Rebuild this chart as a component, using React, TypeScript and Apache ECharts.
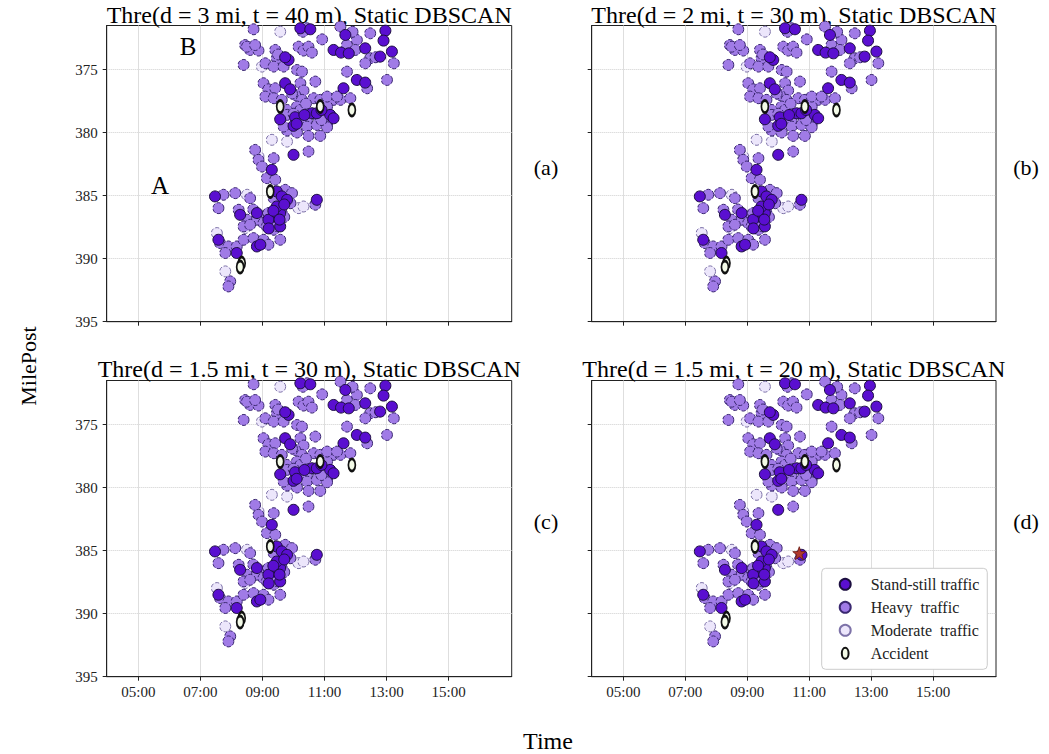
import React, { useEffect, useRef } from "react";
import * as echarts from "echarts";

const FONT = '"Liberation Serif", "Times New Roman", "DejaVu Serif", serif';

const panelTitles = [
  "Thre(d = 3 mi, t = 40 m), Static DBSCAN",
  "Thre(d = 2 mi, t = 30 m), Static DBSCAN",
  "Thre(d = 1.5 mi, t = 30 m), Static DBSCAN",
  "Thre(d = 1.5 mi, t = 20 m), Static DBSCAN",
];
const panelTags = ["(a)", "(b)", "(c)", "(d)"];
const xTickHours = [5, 7, 9, 11, 13, 15];
const yTickMiles = [375, 380, 385, 390, 395];
const seriesNames = ["Stand-still traffic", "Heavy  traffic", "Moderate  traffic", "Accident"];

// [hour of day, milepost]
const standStill: number[][] = [
  [10.22, 371.72], [10.54, 371.8], [11.67, 372.25], [12.96, 371.91], [12.9, 372.7],
  [13.17, 373.57], [12.79, 373.97], [12.31, 373.31], [11.29, 373.44], [11.53, 373.65],
  [11.78, 373.71], [9.84, 374.23], [9.73, 374.02], [12.04, 375.82], [12.31, 376.03],
  [11.61, 376.48], [9.73, 376.08], [9.89, 376.56], [10.59, 378.46], [11.18, 378.59],
  [9.57, 378.94], [10.05, 378.78], [10.0, 379.46], [11.29, 378.86], [10.75, 378.46],
  [10.0, 381.76], [9.3, 382.95], [9.46, 384.67], [7.47, 385.06], [8.28, 386.52],
  [8.82, 386.38], [7.58, 388.5], [8.82, 389.03], [8.17, 389.55], [8.93, 388.89],
  [9.57, 386.38], [9.36, 386.65], [9.19, 386.91], [9.46, 385.86], [10.75, 385.33],
  [9.62, 385.06], [9.79, 385.33], [9.57, 387.44], [9.35, 386.2], [9.55, 386.9],
  [9.2, 387.6], [9.7, 385.7], [10.35, 378.6], [10.9, 378.2], [10.1, 379.3],
];

const heavy: number[][] = [
  [8.71, 371.8], [10.43, 371.72], [11.51, 371.59], [8.44, 373.05], [8.6, 373.44],
  [8.87, 373.49], [8.5, 373.18], [8.76, 373.05], [9.41, 373.44], [9.46, 374.1],
  [10.16, 373.18], [10.32, 373.49], [10.48, 373.18], [10.59, 373.65], [10.92, 372.6],
  [11.72, 373.05], [12.04, 372.65], [11.99, 373.44], [12.47, 372.12], [12.47, 374.1],
  [13.23, 374.5], [12.31, 374.5], [12.64, 374.02], [8.39, 374.63], [9.09, 374.5],
  [9.36, 374.76], [9.68, 374.76], [10.11, 375.03], [10.27, 375.16], [11.72, 375.16],
  [12.37, 376.48], [13.01, 375.82], [9.03, 376.08], [9.19, 376.56], [9.41, 376.48],
  [10.22, 376.08], [10.32, 376.66], [10.7, 375.95], [9.09, 377.14], [9.36, 377.27],
  [9.62, 377.4], [10.05, 377.01], [10.27, 377.4], [10.65, 377.27], [10.86, 377.4],
  [11.29, 377.4], [11.51, 377.4], [11.83, 377.27], [9.79, 378.2], [10.11, 377.93],
  [10.32, 378.2], [11.08, 377.93], [9.79, 378.59], [10.22, 378.86], [10.43, 379.04],
  [10.81, 378.78], [11.08, 379.31], [10.43, 379.52], [10.75, 379.39], [11.08, 379.57],
  [9.79, 379.83], [10.11, 379.99], [10.48, 380.26], [10.86, 380.26], [9.68, 379.52],
  [8.76, 381.37], [10.48, 381.5], [8.87, 382.16], [8.98, 382.69], [9.36, 382.03],
  [9.14, 383.61], [9.41, 383.74], [9.73, 384.54], [9.95, 384.8], [9.36, 385.2],
  [7.74, 384.93], [8.12, 384.8], [8.6, 385.2], [7.58, 385.99], [8.23, 386.12],
  [8.5, 386.91], [8.39, 387.44], [9.03, 386.65], [9.19, 386.38], [9.41, 386.12],
  [9.62, 386.38], [8.82, 386.91], [9.03, 387.18], [9.3, 387.04], [9.52, 387.04],
  [9.14, 387.44], [9.36, 387.71], [10.7, 385.72], [7.63, 388.76], [7.9, 389.03],
  [8.17, 389.03], [8.39, 388.5], [8.71, 388.37], [9.03, 388.5], [9.19, 388.89],
  [9.57, 388.5], [7.8, 389.55], [7.96, 391.8], [7.9, 392.2], [11.08, 377.14],
  [11.4, 377.14], [10.22, 378.2], [8.6, 387.31], [9.9, 385.6], [9.7, 386.7],
  [9.45, 387.4], [8.7, 386.1], [10.0, 378.5], [10.4, 377.7], [10.9, 379.0],
  [9.95, 376.9], [9.5, 373.8], [10.3, 372.0], [11.9, 372.0],
];

const moderate: number[][] = [
  [9.57, 371.99], [8.98, 374.76], [9.3, 380.57], [9.79, 380.71], [8.5, 384.93],
  [8.44, 387.57], [10.16, 385.99], [10.32, 385.86], [7.53, 387.97], [7.8, 391.01],
  [8.87, 381.89],
];

const accident: number[][] = [
  [9.57, 377.93], [10.86, 377.93], [11.88, 378.2], [9.25, 384.67], [8.33, 390.35], [8.28, 390.66],
];

const clusterMark: number[][] = [[10.68, 385.2]];

const grids = [
  { left: 106.7, top: 25.5, width: 405, height: 296.2 },
  { left: 591.7, top: 25.5, width: 404.3, height: 296.2 },
  { left: 106.7, top: 380.5, width: 405, height: 296.2 },
  { left: 591.7, top: 380.5, width: 404.3, height: 296.2 },
];

const STAR =
  "path://M12,0 L14.9,8.1 L23.4,8.3 L16.7,13.5 L19.1,21.7 L12,16.9 L4.9,21.7 L7.3,13.5 L0.6,8.3 L9.1,8.1 Z";
const OVAL =
  "path://M4,0C6.2,0,8,2.9,8,6.5C8,10.1,6.2,13,4,13C1.8,13,0,10.1,0,6.5C0,2.9,1.8,0,4,0Z";

function pad2(v: number) {
  return (v < 10 ? "0" : "") + v + ":00";
}

export default function App() {
  const ref = useRef<HTMLDivElement>(null);
  useEffect(() => {
    if (!ref.current) return;
    const chart = echarts.init(ref.current, undefined, { renderer: "svg" });

    const xAxes: any[] = [];
    const yAxes: any[] = [];
    const series: any[] = [];
    grids.forEach((g, i) => {
      xAxes.push({
        type: "value",
        gridIndex: i,
        min: 3.98,
        max: 17.03,
        axisLine: { show: true, lineStyle: { color: "#222", width: 1 } },
        axisTick: { show: true, customValues: xTickHours, length: 4, lineStyle: { color: "#222" } },
        axisLabel: {
          show: i >= 2,
          customValues: xTickHours,
          formatter: (v: number) => pad2(v),
          fontFamily: FONT,
          fontSize: 15,
          color: "#222",
          margin: 8,
        },
        splitLine: { show: true, lineStyle: { color: "#dedede", width: 1, type: "solid" } },
      });
      yAxes.push({
        type: "value",
        gridIndex: i,
        inverse: true,
        min: 371.5,
        max: 395,
        axisLine: { show: true, lineStyle: { color: "#222", width: 1 } },
        axisTick: { show: true, customValues: yTickMiles, length: 4, lineStyle: { color: "#222" } },
        axisLabel: {
          show: i % 2 === 0,
          customValues: yTickMiles,
          fontFamily: FONT,
          fontSize: 15,
          color: "#222",
          margin: 9,
        },
        splitLine: { show: true, lineStyle: { color: "#cfcfcf", width: 1, type: "dotted" } },
      });
      const common = { type: "scatter", xAxisIndex: i, yAxisIndex: i, silent: true, symbolSize: 11 };
      series.push({
        ...common,
        name: seriesNames[2],
        data: moderate,
        itemStyle: { color: "#ece6fb", borderColor: "#7d72a8", borderWidth: 1, borderType: "dashed", opacity: 1 },
      });
      series.push({
        ...common,
        name: seriesNames[1],
        data: heavy,
        itemStyle: { color: "#a07be6", borderColor: "#3a2870", borderWidth: 1, borderType: "dashed", opacity: 1 },
      });
      series.push({
        ...common,
        name: seriesNames[0],
        data: standStill,
        itemStyle: { color: "#5a0fd0", borderColor: "#1c0e40", borderWidth: 1, opacity: 1 },
      });
      series.push({
        ...common,
        name: seriesNames[3],
        data: accident,
        symbol: "circle",
        symbolSize: [7, 12],
        itemStyle: { color: "#f4fbe8", borderColor: "#111", borderWidth: 2.2, opacity: 1 },
      });
      if (i === 3) {
        series.push({
          ...common,
          name: "cluster",
          data: clusterMark,
          symbol: STAR,
          symbolSize: 13,
          itemStyle: { color: "#b0392c", borderColor: "#6a1a12", borderWidth: 0.8, opacity: 1 },
        });
      }
    });

    const titleY = [14.6, 14.6, 368.6, 368.6];
    const tagY = [167, 167, 521, 521];
    const graphics: any[] = [];
    grids.forEach((g, i) => {
      graphics.push({
        type: "text",
        x: g.left + g.width / 2,
        y: titleY[i],
        style: { text: panelTitles[i], fontFamily: FONT, fontSize: 24, fill: "#000", align: "center", verticalAlign: "middle" },
      });
      graphics.push({
        type: "text",
        x: i % 2 === 0 ? 546 : 1026,
        y: tagY[i],
        style: { text: panelTags[i], fontFamily: FONT, fontSize: 22, fill: "#000", align: "center", verticalAlign: "middle" },
      });
    });
    graphics.push({
      type: "text", x: 160, y: 185,
      style: { text: "A", fontFamily: FONT, fontSize: 25, fill: "#000", align: "center", verticalAlign: "middle" },
    });
    graphics.push({
      type: "text", x: 188, y: 46,
      style: { text: "B", fontFamily: FONT, fontSize: 25, fill: "#000", align: "center", verticalAlign: "middle" },
    });
    graphics.push({
      type: "text", x: 28, y: 366, rotation: Math.PI / 2,
      style: { text: "MilePost", fontFamily: FONT, fontSize: 22, fill: "#000", align: "center", verticalAlign: "middle" },
    });
    graphics.push({
      type: "text", x: 548, y: 741,
      style: { text: "Time", fontFamily: FONT, fontSize: 24, fill: "#000", align: "center", verticalAlign: "middle" },
    });

    chart.setOption({
      animation: false,
      backgroundColor: "#fff",
      grid: grids.map((g) => ({ ...g, show: true, borderColor: "#222", borderWidth: 1, backgroundColor: "transparent" })),
      xAxis: xAxes,
      yAxis: yAxes,
      legend: {
        show: true,
        data: [
          { name: seriesNames[0] },
          { name: seriesNames[1] },
          { name: seriesNames[2] },
          { name: seriesNames[3], icon: OVAL },
        ],
        orient: "vertical",
        left: 821.7,
        top: 568.3,
        padding: [8, 8, 8, 17],
        itemWidth: 41,
        itemHeight: 11,
        itemGap: 7,
        backgroundColor: "#fff",
        borderColor: "#cccccc",
        borderWidth: 1,
        borderRadius: 4,
        selectedMode: false,
        textStyle: { fontFamily: FONT, fontSize: 16, color: "#222" },
      },
      series,
      graphic: graphics,
    });
    return () => chart.dispose();
  }, []);
  return (
    <div
      ref={ref}
      style={{ position: "absolute", left: 0, top: 0, width: 1049, height: 754, background: "#fff" }}
    />
  );
}
